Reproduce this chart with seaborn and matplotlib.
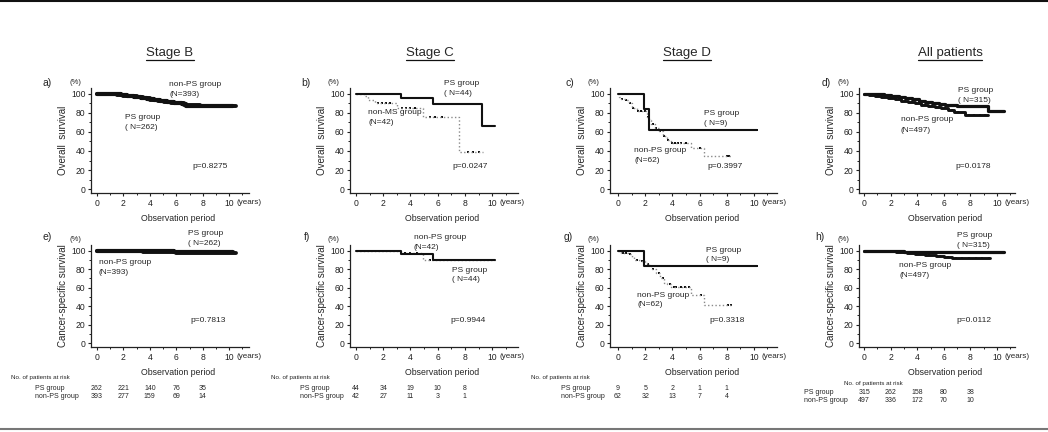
import numpy as np
import pandas as pd
import matplotlib
matplotlib.use('Agg')
import matplotlib.pyplot as plt
import seaborn as sns
from matplotlib.lines import Line2D
from matplotlib.ticker import MultipleLocator

# ---------------- data ----------------
columns = ['Stage B', 'Stage C', 'Stage D', 'All patients']
panel_letters = ['a)', 'b)', 'c)', 'd)', 'e)', 'f)', 'g)', 'h)']
ylabels = ['Overall  survival', 'Cancer-specific survival']
risk_years = [0, 2, 4, 6, 8]

# Stage B overall
aPS_t = [0, 0.6, 1.2, 1.8, 2.3, 2.8, 3.3, 3.8, 4.3, 4.8, 5.3, 5.8, 6.4, 6.7, 7.6, 10.3]
aPS_s = [100, 99.6, 99.2, 98.6, 97.8, 96.9, 95.8, 94.6, 93.3, 92.2, 91.2, 90.4, 89.5, 87.6, 87.2, 87.2]
aPS_c = [0.2, 0.8, 1.4, 2.0, 2.6, 3.1, 3.6, 4.1, 4.6, 5.1, 5.6, 6.1, 6.9, 7.3, 7.8, 8.2, 8.6, 9.0, 9.4, 9.8, 10.2]
aNon_t = [0, 0.4, 0.9, 1.5, 2.0, 2.6, 3.0, 3.5, 4.0, 4.6, 5.1, 5.6, 6.2, 6.6, 7.8, 10.5]
aNon_s = [100, 99.8, 99.3, 98.9, 98.1, 97.2, 96.3, 95.2, 93.8, 92.6, 91.5, 90.7, 89.9, 87.9, 87.4, 87.4]
aNon_c = [0.1, 0.6, 1.1, 1.7, 2.2, 2.8, 3.2, 3.8, 4.3, 4.8, 5.3, 5.9, 6.4, 7.0, 7.5, 8.0, 8.4, 8.8, 9.2, 9.6, 10.0, 10.4]
# Stage C overall
bPS_t = [0, 3.3, 5.65, 9.25, 10.2]
bPS_s = [100, 96, 89, 66.5, 66.5]
bPS_c = [0.3, 1.3, 1.6, 2.2, 2.6, 2.9, 3.5, 3.8, 4.7, 6.1, 7.0, 8.0, 8.3, 8.6, 9.5, 9.9]
bNon_t = [0, 0.65, 0.9, 1.4, 3.0, 4.95, 7.55, 9.3]
bNon_s = [100, 97.5, 93, 90, 85, 76, 38.5, 38.5]
bNon_c = [0.1, 0.5, 1.6, 1.9, 2.2, 2.5, 3.4, 3.7, 4.0, 4.3, 5.4, 5.8, 6.3, 8.2, 8.6, 9.0]
# Stage D overall
cPS_t = [0, 1.9, 2.3, 10.2]
cPS_s = [100, 83.5, 62.5, 62.5]
cPS_c = [3.0, 5.5, 10.2]
cNon_t = [0, 0.1, 0.25, 0.5, 0.8, 1.0, 1.4, 2.05, 2.15, 2.3, 2.45, 2.75, 3.0, 3.3, 3.6, 3.9, 5.35, 6.3, 8.3]
cNon_s = [100, 97, 95, 93, 90, 85, 82, 80, 76, 72, 68, 64, 61, 56, 52, 48.5, 43, 34.5, 34.5]
cNon_c = [0.3, 0.6, 0.9, 1.1, 1.5, 1.7, 1.95, 2.2, 2.6, 2.8, 3.1, 3.4, 3.7, 4.0, 4.2, 4.4, 4.6, 5.0, 6.0, 8.0, 8.2]
# All patients overall
dPS_t = [0, 0.5, 1.0, 1.5, 2.0, 2.6, 3.1, 3.6, 4.1, 4.6, 5.1, 5.6, 6.1, 6.6, 7.0, 9.3, 10.5]
dPS_s = [100, 99.8, 99.4, 98.8, 97.8, 96.6, 95.3, 94.0, 92.6, 91.6, 90.7, 89.7, 88.6, 87.7, 86.8, 81.8, 81.8]
dPS_c = [0.3, 0.9, 1.7, 2.3, 2.9, 3.4, 4.0, 4.5, 5.0, 5.5, 6.0, 6.5, 7.2, 7.6, 8.0, 8.4, 8.8, 9.1, 9.6, 10.0, 10.4]
dNon_t = [0, 0.4, 0.8, 1.3, 1.8, 2.3, 2.8, 3.3, 3.8, 4.3, 4.8, 5.3, 5.8, 6.3, 6.8, 7.6, 9.3]
dNon_s = [100, 99.0, 97.9, 96.6, 95.3, 94.0, 92.6, 91.3, 90.0, 88.6, 87.4, 86.2, 84.8, 83.2, 81.2, 78.0, 78.0]
dNon_c = [0.2, 0.6, 1.1, 1.6, 2.1, 2.6, 3.1, 3.6, 4.1, 4.6, 5.1, 5.6, 6.1, 6.6, 7.1, 7.9, 8.3, 8.7, 9.1]
# Stage B cancer-specific
ePS_t = [0, 1.5, 3.0, 4.5, 5.8, 10.3]
ePS_s = [100, 99.8, 99.4, 99.0, 98.6, 98.6]
ePS_c = [0.3, 0.9, 1.6, 2.2, 2.8, 3.4, 4.0, 4.6, 5.2, 6.0, 6.6, 7.2, 7.8, 8.4, 9.0, 9.6, 10.2]
eNon_t = [0, 1.2, 2.5, 3.5, 5.0, 6.0, 10.5]
eNon_s = [100, 99.7, 99.3, 98.9, 98.4, 97.9, 97.9]
eNon_c = [0.2, 0.7, 1.3, 1.9, 2.6, 3.2, 3.8, 4.4, 5.1, 5.7, 6.3, 6.9, 7.5, 8.1, 8.7, 9.3, 9.9, 10.4]
# Stage C cancer-specific
fPS_t = [0, 3.3, 5.65, 10.2]
fPS_s = [100, 96.5, 89.5, 89.5]
fPS_c = [0.3, 1.3, 1.6, 2.2, 2.6, 2.9, 3.5, 3.8, 4.7, 6.1, 7.0, 8.0, 8.3, 8.6, 9.5, 9.9]
fNon_t = [0, 3.3, 4.95, 10.2]
fNon_s = [100, 97, 89.5, 89.5]
fNon_c = [0.1, 0.5, 1.0, 1.9, 2.5, 3.0, 3.6, 4.0, 4.5, 5.4, 6.2, 7.4, 8.6]
# Stage D cancer-specific
gPS_t = [0, 1.9, 10.2]
gPS_s = [100, 83.5, 83.5]
gPS_c = [3.0, 5.5, 10.2]
gNon_t = [0, 0.2, 0.7, 1.0, 1.2, 1.6, 2.0, 2.1, 2.3, 2.5, 2.8, 3.1, 3.4, 3.6, 3.9, 5.35, 6.35, 8.4]
gNon_s = [100, 97.5, 96, 93, 90, 88.5, 87, 85, 83, 80, 76, 70.5, 65.5, 63.5, 60.5, 52.5, 41.5, 41.5]
gNon_c = [0.4, 0.6, 0.9, 1.4, 1.8, 2.2, 2.6, 3.0, 3.3, 3.8, 4.1, 4.3, 4.6, 4.9, 5.2, 6.1, 8.1, 8.3]
# All patients cancer-specific
hPS_t = [0, 1.0, 2.0, 3.0, 4.0, 10.5]
hPS_s = [100, 99.7, 99.3, 98.8, 98.2, 98.2]
hPS_c = [0.3, 0.9, 1.6, 2.3, 3.0, 3.7, 4.4, 5.1, 5.8, 6.5, 7.2, 7.9, 8.6, 9.3, 10.0, 10.4]
hNon_t = [0, 0.8, 1.6, 2.4, 3.2, 3.8, 4.6, 5.4, 6.0, 6.6, 9.5]
hNon_s = [100, 99.6, 99.0, 98.2, 97.2, 96.2, 95.2, 94.0, 92.8, 91.8, 91.8]
hNon_c = [0.2, 0.7, 1.3, 1.9, 2.7, 3.4, 4.1, 4.9, 5.7, 6.3, 6.9, 7.4, 7.9, 8.4, 8.9, 9.4]

p_values = ['p=0.8275', 'p=0.0247', 'p=0.3997', 'p=0.0178',
            'p=0.7813', 'p=0.9944', 'p=0.3318', 'p=0.0112']
ps_n = ['( N=262)', '( N=44)', '( N=9)', '( N=315)', '( N=262)', '( N=44)', '( N=9)', '( N=315)']
non_n = ['(N=393)', '(N=42)', '(N=62)', '(N=497)', '(N=393)', '(N=42)', '(N=62)', '(N=497)']
non_names = ['non-PS group', 'non-MS group', 'non-PS group', 'non-PS group',
             'non-PS group', 'non-PS group', 'non-PS group', 'non-PS group']

risk_ps = [[262, 221, 140, 76, 35], [44, 34, 19, 10, 8], [9, 5, 2, 1, 1], [315, 262, 158, 80, 38]]
risk_non = [[393, 277, 159, 69, 14], [42, 27, 11, 3, 1], [62, 32, 13, 7, 4], [497, 336, 172, 70, 10]]

curves = [
    (aPS_t, aPS_s, aPS_c, aNon_t, aNon_s, aNon_c),
    (bPS_t, bPS_s, bPS_c, bNon_t, bNon_s, bNon_c),
    (cPS_t, cPS_s, cPS_c, cNon_t, cNon_s, cNon_c),
    (dPS_t, dPS_s, dPS_c, dNon_t, dNon_s, dNon_c),
    (ePS_t, ePS_s, ePS_c, eNon_t, eNon_s, eNon_c),
    (fPS_t, fPS_s, fPS_c, fNon_t, fNon_s, fNon_c),
    (gPS_t, gPS_s, gPS_c, gNon_t, gNon_s, gNon_c),
    (hPS_t, hPS_s, hPS_c, hNon_t, hNon_s, hNon_c),
]

# label placements (data coords: x, y) for PS name, non-PS name, p-value
ps_pos = [(2.1, 75), (6.5, 111), (6.3, 79), (7.1, 103.5), (6.9, 118), (7.05, 79), (6.5, 100.5), (7.0, 116)]
non_pos = [(5.45, 110), (0.9, 80), (1.2, 41), (2.75, 72.5), (0.15, 87), (4.25, 114), (1.4, 52), (2.65, 83.5)]
p_pos = [(7.2, 24), (7.1, 24), (6.6, 24), (6.9, 24), (7.1, 25), (6.9, 25), (6.7, 25), (6.95, 25)]

# ---------------- style ----------------
sns.set_style('ticks')
plt.rcParams['font.family'] = ['Liberation Sans', 'DejaVu Sans']

W, H = 1048, 432
fig = plt.figure(figsize=(W / 100, H / 100), dpi=100)

col_px = [(91, 249), (350, 518), (610, 777), (859, 1015)]
xlims = [(-0.45, 11.5), (-0.44, 11.9), (-0.59, 11.7), (-0.38, 11.35)]
row_px = [(88, 193), (245, 347)]
title_x = [170, 430, 687, 950]
letter_px = [(47, 83), (306, 83), (570, 83), (826, 83), (47, 237), (307, 237), (568, 237), (820, 237)]
band_lw = [3.0, 1.5, 1.5, 2.3]
big = [True, False, False, True]


def step_at(ts, ss, x):
    ts = np.asarray(ts)
    idx = np.searchsorted(ts, np.asarray(x), side='right') - 1
    return np.asarray(ss)[idx]


titles = []
for r in range(2):
    for c in range(4):
        k = r * 4 + c
        l, rr = col_px[c]
        t, b = row_px[r]
        ax = fig.add_axes([l / W, 1 - b / H, (rr - l) / W, (b - t) / H])
        pt, psv, pc, nt, nsv, nc = curves[k]
        if big[c]:
            ps_kw = dict(color='#111111', lw=band_lw[c], linestyle='-')
            non_kw = dict(color='#111111', lw=band_lw[c] - 0.2, linestyle='-')
        else:
            ps_kw = dict(color='#111111', lw=1.5, linestyle='-')
            non_kw = dict(color='#8a8a8a', lw=1.0, linestyle=':')
        sns.lineplot(x=nt, y=nsv, ax=ax, drawstyle='steps-post', estimator=None,
                     sort=False, **non_kw)
        sns.lineplot(x=pt, y=psv, ax=ax, drawstyle='steps-post', estimator=None,
                     sort=False, **ps_kw)
        sns.scatterplot(x=nc, y=step_at(nt, nsv, nc), ax=ax, marker='s', s=4,
                        color='#111111', linewidth=0)
        sns.scatterplot(x=pc, y=step_at(pt, psv, pc), ax=ax, marker='s', s=4,
                        color='#111111', linewidth=0)

        ax.set_xlim(*xlims[c])
        ax.set_ylim(-4, 106)
        ax.xaxis.set_major_locator(MultipleLocator(2))
        ax.xaxis.set_minor_locator(MultipleLocator(1))
        ax.yaxis.set_major_locator(MultipleLocator(20))
        ax.yaxis.set_minor_locator(MultipleLocator(10))
        ax.tick_params(which='major', labelsize=6.2, length=2.5, width=0.8, pad=1.5, colors='#222222')
        ax.tick_params(which='minor', length=1.5, width=0.7, colors='#222222')
        for s in ['top', 'right']:
            ax.spines[s].set_visible(False)
        for s in ['left', 'bottom']:
            ax.spines[s].set_linewidth(0.9)
            ax.spines[s].set_color('#222222')

        wpx = rr - l
        hpx = b - t
        ax.set_ylabel(ylabels[r], fontsize=7)
        ax.yaxis.set_label_coords(-23 / wpx, 0.5)
        ax.set_xlabel('Observation period', fontsize=6.3)
        ax.xaxis.set_label_coords(0.55, -21 / hpx)

        ax.text(-0.1, 1.05, '(%)', transform=ax.transAxes, fontsize=5.5, ha='center', va='center')
        ax.text(10.55, -0.095, '(years)', transform=ax.get_xaxis_transform(),
                fontsize=5.8, ha='left', va='center')

        fs = 6
        ax.text(ps_pos[k][0], ps_pos[k][1], 'PS group', fontsize=fs, ha='left', va='center', clip_on=False)
        ax.text(ps_pos[k][0], ps_pos[k][1] - 10.5, ps_n[k], fontsize=fs, ha='left', va='center', clip_on=False)
        ax.text(non_pos[k][0], non_pos[k][1], non_names[k], fontsize=fs, ha='left', va='center', clip_on=False)
        ax.text(non_pos[k][0], non_pos[k][1] - 10.5, non_n[k], fontsize=fs, ha='left', va='center', clip_on=False)
        ax.text(p_pos[k][0], p_pos[k][1], p_values[k], fontsize=fs, ha='left', va='center')

        lx, ly = letter_px[k]
        fig.text(lx / W, 1 - ly / H, panel_letters[k], fontsize=7.5, ha='center', va='center')

        if r == 0:
            titles.append(fig.text(title_x[c] / W, 1 - 53 / H, columns[c],
                                   fontsize=9.5, ha='center', va='center'))
        else:
            tr = ax.get_xaxis_transform()
            if c < 3:
                y0, y1, y2 = -30 / hpx, -42 / hpx, -50 / hpx
                head_x = [-6.5, -6.25, -6.4][c]
                lab_x = [-4.7, -4.1, -4.2][c]
            else:
                y0, y1, y2 = -37 / hpx, -45 / hpx, -53 / hpx
                head_x = -1.5
                lab_x = -4.55
            ax.text(head_x, y0, 'No. of patients at risk', transform=tr, fontsize=4.5,
                    ha='left', va='center', clip_on=False)
            ax.text(lab_x, y1, 'PS group', transform=tr, fontsize=5, ha='left', va='center', clip_on=False)
            ax.text(lab_x, y2, 'non-PS group', transform=tr, fontsize=5, ha='left', va='center', clip_on=False)
            for yr, v1, v2 in zip(risk_years, risk_ps[c], risk_non[c]):
                ax.text(yr, y1, str(v1), transform=tr, fontsize=5, ha='center', va='center', clip_on=False)
                ax.text(yr, y2, str(v2), transform=tr, fontsize=5, ha='center', va='center', clip_on=False)

# underline the column titles
fig.canvas.draw()
renderer = fig.canvas.get_renderer()
for ttl in titles:
    bb = ttl.get_window_extent(renderer)
    yline = (bb.y0 - 1.0) / H
    fig.add_artist(Line2D([bb.x0 / W, bb.x1 / W], [yline, yline], color='#111111',
                          lw=0.9, transform=fig.transFigure))

fig.add_artist(Line2D([0, 1], [1 - 1 / H, 1 - 1 / H], color='#111111', lw=1.5, transform=fig.transFigure))
fig.add_artist(Line2D([0, 1], [1 - 428.5 / H, 1 - 428.5 / H], color='#777777', lw=1.5, transform=fig.transFigure))

fig.savefig('out.png', dpi=100)
